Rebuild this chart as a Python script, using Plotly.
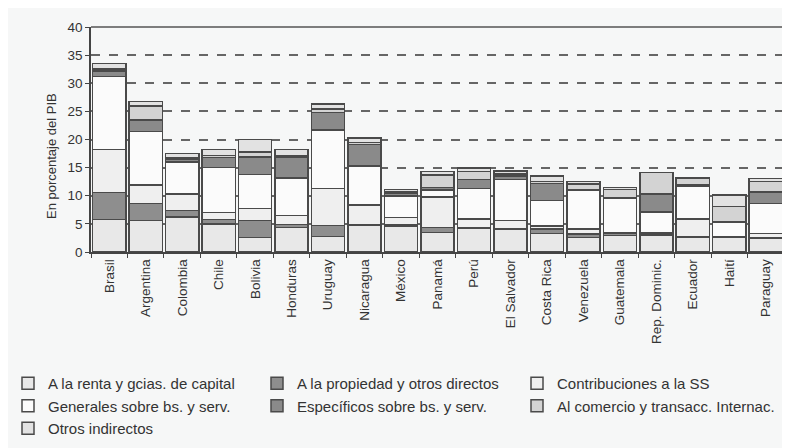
import plotly.graph_objects as go

countries = ["Brasil", "Argentina", "Colombia", "Chile", "Bolivia", "Honduras", "Uruguay",
             "Nicaragua", "México", "Panamá", "Perú", "El Salvador", "Costa Rica", "Venezuela",
             "Guatemala", "Rep. Dominic.", "Ecuador", "Haití", "Paraguay"]

renta =        [5.8, 5.6, 6.2, 5.0, 2.6, 4.4, 2.8, 4.7, 4.6, 3.5, 4.3, 4.1, 3.3, 2.6, 2.9, 2.9, 2.7, 2.7, 2.4]
propiedad =    [4.8, 3.0, 1.2, 0.8, 3.0, 0.5, 1.9, 0.2, 0.3, 0.9, 0.1, 0.1, 0.8, 0.6, 0.4, 0.3, 0.1, 0.0, 0.1]
seg_social =   [7.6, 3.3, 2.9, 1.2, 2.1, 1.6, 6.6, 3.5, 1.2, 5.4, 1.5, 1.4, 0.5, 0.9, 0.1, 0.3, 3.1, 0.0, 0.8]
generales =    [13.0, 9.5, 5.7, 8.0, 6.1, 6.7, 10.4, 6.9, 3.9, 1.2, 5.4, 7.3, 4.6, 6.9, 6.1, 3.6, 5.8, 2.6, 5.3]
especificos =  [1.0, 2.1, 0.5, 1.8, 3.1, 3.6, 3.1, 3.8, 0.5, 0.5, 1.6, 0.6, 3.0, 0.1, 0.1, 3.2, 0.3, 0.0, 2.1]
comercio =     [0.3, 2.5, 0.3, 0.4, 0.9, 0.3, 0.6, 0.4, 0.2, 2.2, 1.4, 0.4, 0.3, 1.0, 1.5, 3.8, 1.2, 2.8, 1.8]
otros =        [1.0, 0.8, 0.7, 1.0, 2.2, 1.1, 0.9, 0.8, 0.4, 0.6, 0.6, 0.5, 1.0, 0.4, 0.4, 0.0, 0.0, 2.0, 0.6]

series_names = ["A la renta y gcias. de capital", "A la propiedad y otros directos",
                "Contribuciones a la SS", "Generales sobre bs. y serv.",
                "Específicos sobre bs. y serv.", "Al comercio y transacc. Internac.",
                "Otros indirectos"]
series_values = [renta, propiedad, seg_social, generales, especificos, comercio, otros]
colors = ["#e8e8e8", "#8e8e8e", "#efefef", "#fbfbfb", "#8a8a8a", "#d3d3d3", "#e2e2e2"]
# legend column for each series (3-column layout, row-major like the reference)
legend_ids = ["legend", "legend2", "legend3", "legend", "legend2", "legend3", "legend"]

y_ticks = [0, 5, 10, 15, 20, 25, 30, 35, 40]

W, H = 782, 440  # page body has an 8px margin inside the 790x448 window
fig = go.Figure()
for name, vals, col, lg in zip(series_names, series_values, colors, legend_ids):
    fig.add_trace(go.Bar(
        x=countries, y=vals, name=name, legend=lg,
        marker=dict(color=col, line=dict(color="#4a4a4a", width=1.5)),
    ))

font_family = "Liberation Sans, Arial, sans-serif"
bg = "#f6f7f7"
plot_top, plot_bottom = 19, 244
legend_top = 359


def legend_cfg(x_px):
    return dict(
        orientation="v",
        traceorder="normal",
        x=x_px / W, xref="container", xanchor="left",
        y=1 - legend_top / H, yref="container", yanchor="top",
        font=dict(size=15, color="#333333"),
        bgcolor="rgba(0,0,0,0)",
        tracegroupgap=0,
        itemclick=False,
    )


fig.update_layout(
    barmode="stack",
    bargap=0.09,
    width=W, height=H,
    paper_bgcolor=bg, plot_bgcolor=bg,
    margin=dict(l=83, r=6, t=plot_top, b=H - plot_bottom, autoexpand=False),
    font=dict(family=font_family, size=13.5, color="#333333"),
    showlegend=True,
    legend=legend_cfg(0),
    legend2=legend_cfg(249),
    legend3=legend_cfg(509),
    xaxis=dict(
        tickangle=-90,
        showline=True, linecolor="#444444", linewidth=1.5,
        ticks="outside", ticklen=4, tickcolor="#444444", tickson="boundaries",
        mirror=False, automargin=False,
        tickfont=dict(size=13.5, color="#333333"),
    ),
    yaxis=dict(
        range=[0, 40],
        tickvals=y_ticks,
        showline=True, linecolor="#444444", linewidth=1.5,
        ticks="outside", ticklen=4, tickcolor="#444444",
        showgrid=True, gridcolor="#666666", gridwidth=1.5, griddash="dash",
        zeroline=False, automargin=False,
        tickfont=dict(size=13.5, color="#333333"),
    ),
    annotations=[dict(
        text="En porcentaje del PIB", textangle=-90,
        xref="paper", x=(44 - 83) / (W - 83 - 6), xanchor="center",
        yref="paper", y=(plot_bottom - 148) / (plot_bottom - plot_top), yanchor="middle",
        showarrow=False, font=dict(size=13, color="#333333"),
    )],
)

# top and right frame lines
fig.add_shape(type="line", xref="paper", yref="paper", x0=0, x1=1, y0=1, y1=1,
              line=dict(color="#555555", width=1.5))
fig.add_shape(type="line", xref="paper", yref="paper", x0=1, x1=1, y0=0, y1=1,
              line=dict(color="#555555", width=1.5))

fig.write_html("out.html")
